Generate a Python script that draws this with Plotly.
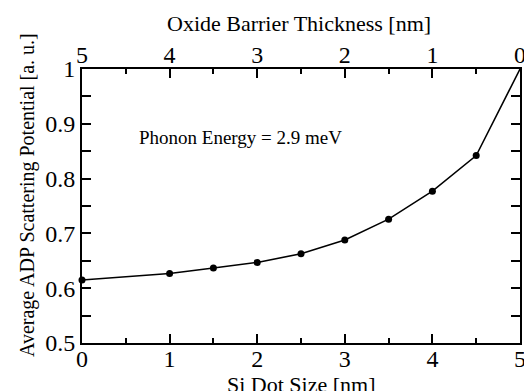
import plotly.graph_objects as go

dot_size = [0, 1, 1.5, 2, 2.5, 3, 3.5, 4, 4.5, 5]
potential = [0.615, 0.627, 0.637, 0.647, 0.663, 0.688, 0.726, 0.777, 0.842, 1.0]

x_ticks = [0, 1, 2, 3, 4, 5]
x_ticktext = ["0", "1", "2", "3", "4", "5"]
top_ticks = [5, 4, 3, 2, 1, 0]
top_ticktext = ["5", "4", "3", "2", "1", "0"]
y_ticks = [0.5, 0.6, 0.7, 0.8, 0.9, 1.0]
y_ticktext = ["0.5", "0.6", "0.7", "0.8", "0.9", "1"]

FONT = "Liberation Serif"

fig = go.Figure()
# connecting line through all points
fig.add_trace(go.Scatter(
    x=dot_size, y=potential, mode="lines",
    line=dict(color="black", width=1.5),
    showlegend=False, cliponaxis=False,
))
# markers (the corner point shows no visible marker in the reference)
fig.add_trace(go.Scatter(
    x=dot_size[:-1], y=potential[:-1], mode="markers",
    marker=dict(color="black", size=7, line=dict(width=0)),
    showlegend=False, cliponaxis=False,
))
# invisible trace to anchor the top axis
fig.add_trace(go.Scatter(x=top_ticks, y=[None] * len(top_ticks), xaxis="x2",
                         mode="markers", showlegend=False, hoverinfo="skip"))

tick_common = dict(ticks="inside", ticklen=9, tickwidth=1.5, tickcolor="black",
                   showgrid=False, zeroline=False, automargin=False,
                   ticklabeloverflow="allow")

fig.update_layout(
    width=524, height=391,
    margin=dict(l=82, r=4, t=69, b=48),
    paper_bgcolor="white", plot_bgcolor="white",
    font=dict(family=FONT, color="black", size=24),
    xaxis=dict(
        range=[0, 5], tickvals=x_ticks, ticktext=x_ticktext,
        showline=True, linecolor="black", linewidth=2, mirror=True,
        minor=dict(dtick=0.5, ticks="inside", ticklen=5, tickwidth=1.5, tickcolor="black"),
        tickfont=dict(size=24, family=FONT),
        ticklabelstandoff=-7,
        **tick_common,
    ),
    xaxis2=dict(
        overlaying="x", side="top", range=[5, 0],
        tickvals=top_ticks, ticktext=top_ticktext, showline=False,
        minor=dict(dtick=0.5, ticks="inside", ticklen=5, tickwidth=1.5, tickcolor="black"),
        tickfont=dict(size=24, family=FONT),
        **tick_common,
    ),
    yaxis=dict(
        range=[0.5, 1.0], tickvals=y_ticks, ticktext=y_ticktext,
        showline=True, linecolor="black", linewidth=2, mirror="allticks",
        minor=dict(dtick=0.05, ticks="inside", ticklen=5, tickwidth=1.5, tickcolor="black"),
        tickfont=dict(size=24, family=FONT),
        ticklabelstandoff=0,
        **tick_common,
    ),
    annotations=[
        dict(x=0.1256, y=0.751, xref="paper", yref="paper", xanchor="left", yanchor="middle",
             text="Phonon Energy = 2.9 meV", showarrow=False, font=dict(size=19, family=FONT)),
        dict(x=0.5, y=-0.15, xref="paper", yref="paper", xanchor="center", yanchor="middle",
             text="Si Dot Size [nm]", showarrow=False, font=dict(size=22, family=FONT)),
        dict(x=0.495, y=1.166, xref="paper", yref="paper", xanchor="center", yanchor="middle",
             text="Oxide Barrier Thickness [nm]", showarrow=False, font=dict(size=22, family=FONT)),
        dict(x=-0.1256, y=0.54, xref="paper", yref="paper", xanchor="center", yanchor="middle",
             text="Average ADP Scattering Potential [a. u.]", textangle=-90, showarrow=False,
             font=dict(size=20, family=FONT)),
    ],
)

fig.write_html("out.html", config={"displayModeBar": False},
               post_script="document.body.style.margin='0';document.body.style.overflow='hidden';")
